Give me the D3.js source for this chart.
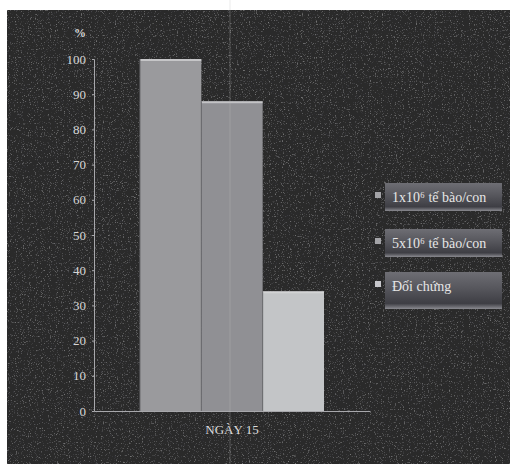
<!DOCTYPE html>
<html>
<head>
<meta charset="utf-8">
<script src="https://cdn.jsdelivr.net/npm/d3@7"></script>
<style>
  html, body { margin: 0; padding: 0; background: #fff; }
  svg { display: block; }
  text { font-family: 'Liberation Serif', 'DejaVu Serif', serif; }
</style>
</head>
<body>
<script>
// Survival rate (%) on day 15 for each treatment group
const groups = ["NGÀY 15"];
const series = ["1x10⁶ tế bào/con", "5x10⁶ tế bào/con", "Đối chứng"];
const values = [100, 88, 34];
const yTicks = [0, 10, 20, 30, 40, 50, 60, 70, 80, 90, 100];
const colors = ["#9a9a9d", "#909094", "#c3c5c7"];

const W = 510, H = 464;
const svg = d3.select("body").append("svg").attr("width", W).attr("height", H);

const defs = svg.append("defs");
// fine grain for the dark panel
const f = defs.append("filter").attr("id", "grain").attr("x", 0).attr("y", 0).attr("width", 1).attr("height", 1);
f.append("feTurbulence").attr("type", "fractalNoise").attr("baseFrequency", 0.85).attr("numOctaves", 2).attr("seed", 4).attr("result", "n");
f.append("feColorMatrix").attr("in", "n").attr("type", "matrix")
  .attr("values", "0 0 0 0 0.5  0 0 0 0 0.5  0 0 0 0 0.5  0 0 0 1.2 -0.72").attr("result", "dots");
f.append("feComposite").attr("in", "dots").attr("in2", "SourceGraphic").attr("operator", "over");

const lg = defs.append("linearGradient").attr("id", "legendBox").attr("x1", 0).attr("y1", 0).attr("x2", 0).attr("y2", 1);
lg.append("stop").attr("offset", "0%").attr("stop-color", "#6e6e74");
lg.append("stop").attr("offset", "45%").attr("stop-color", "#56565c");
lg.append("stop").attr("offset", "85%").attr("stop-color", "#3e3e44");
lg.append("stop").attr("offset", "100%").attr("stop-color", "#8a8a90");

// dark panel
svg.append("rect").attr("x", 7).attr("y", 10).attr("width", W - 7).attr("height", H - 10)
  .attr("fill", "#2a2a2c").attr("filter", "url(#grain)");

const margin = { left: 94, right: 370, top: 59, bottom: 411 };
const y = d3.scaleLinear().domain([0, 100]).range([margin.bottom, margin.top]);
const x0 = d3.scaleBand().domain(groups).range([margin.left, margin.right]);
const x1 = d3.scaleBand().domain(series).range([0, x0.bandwidth()]).paddingInner(0).paddingOuter(0.75);

// bars
const g = svg.append("g");
series.forEach((s, i) => {
  const bx = x0(groups[0]) + x1(s);
  g.append("rect")
    .attr("x", bx).attr("y", y(values[i]))
    .attr("width", x1.bandwidth()).attr("height", y(0) - y(values[i]))
    .attr("fill", colors[i]);
  g.append("rect")
    .attr("x", bx).attr("y", y(values[i]))
    .attr("width", x1.bandwidth()).attr("height", 2)
    .attr("fill", "#d8d8da").attr("opacity", 0.7);
  g.append("line")
    .attr("x1", bx).attr("x2", bx).attr("y1", y(values[i])).attr("y2", y(0))
    .attr("stroke", "#6a6a6e").attr("stroke-width", 1);
});

// y axis
const yAxis = svg.append("g").attr("transform", `translate(${margin.left},0)`)
  .call(d3.axisLeft(y).tickValues(yTicks).tickSize(2).tickPadding(6).tickFormat(d3.format("d")));
yAxis.attr("font-family", null);
yAxis.select(".domain").attr("stroke", "#a8a8ac");
yAxis.selectAll(".tick line").attr("stroke", "#a8a8ac");
yAxis.selectAll("text").attr("fill", "#d6d6d6").style("font-size", "13px");

svg.append("text").attr("x", 80).attr("y", 37).attr("text-anchor", "middle")
  .attr("fill", "#d6d6d6").style("font-size", "12px").style("font-weight", "bold").text("%");

// x axis
const xAxis = svg.append("g").attr("transform", `translate(0,${margin.bottom})`)
  .call(d3.axisBottom(x0).tickSize(0).tickPadding(14));
xAxis.attr("font-family", null);
xAxis.select(".domain").attr("stroke", "#a8a8ac");
xAxis.selectAll("text").attr("fill", "#dcdcdc").style("font-size", "13px");

// legend
const legendTop = [183, 229, 272];
const legendH = [28, 28, 37];
const legend = svg.append("g");
series.forEach((s, i) => {
  const ly = legendTop[i];
  legend.append("rect").attr("x", 385).attr("y", ly).attr("width", 117).attr("height", legendH[i])
    .attr("fill", "url(#legendBox)");
  legend.append("rect").attr("x", 375).attr("y", ly + 9).attr("width", 6).attr("height", 6)
    .attr("fill", i === 2 ? "#c8c8cc" : "#a4a4a8");
  legend.append("text").attr("x", 392).attr("y", ly + 19)
    .attr("fill", "#e6e6e6").style("font-size", "14px").text(s);
});

// faint vertical crease across the sheet
svg.append("line").attr("x1", 230).attr("x2", 230).attr("y1", 0).attr("y2", H)
  .attr("stroke", "#bdbdbd").attr("stroke-width", 1).attr("opacity", 0.3);
</script>
</body>
</html>
